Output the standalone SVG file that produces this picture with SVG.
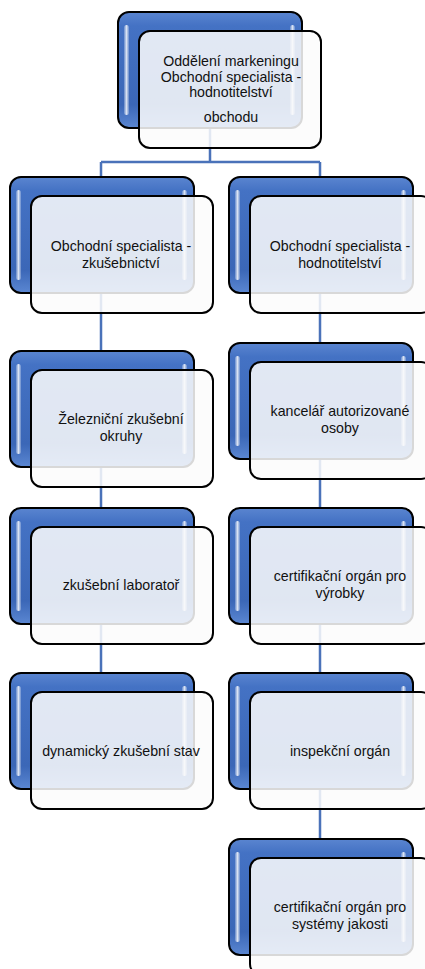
<svg xmlns="http://www.w3.org/2000/svg" width="425" height="969" viewBox="0 0 425 969">
<defs>
<linearGradient id="blueG" x1="0" y1="0" x2="0" y2="1">
<stop offset="0" stop-color="#5a85d0"/>
<stop offset="0.12" stop-color="#4472c4"/>
<stop offset="0.8" stop-color="#3b67b7"/>
<stop offset="1" stop-color="#5b87d2"/>
</linearGradient>
<linearGradient id="hlG" x1="0" y1="0" x2="1" y2="0">
<stop offset="0" stop-color="#ffffff" stop-opacity="0.2"/>
<stop offset="0.5" stop-color="#ffffff" stop-opacity="0.8"/>
<stop offset="1" stop-color="#ffffff" stop-opacity="0.2"/>
</linearGradient>
<g id="node">
<rect class="back" x="0" y="0" width="184" height="116" rx="11"/>
<rect class="hl" x="6" y="13" width="5" height="90" rx="2.5"/>
<rect class="hl" x="172" y="13" width="5" height="90" rx="2.5"/>
<rect class="front" x="21" y="19" width="182" height="117" rx="11"/>
</g>
</defs>
<style>
.back{fill:url(#blueG);stroke:#000;stroke-width:2}
.hl{fill:url(#hlG)}
.front{fill:#fbfbfb;fill-opacity:0.86;stroke:#000;stroke-width:2}
.conn{fill:none;stroke:#4a72b9;stroke-width:2.5}
text{font-family:"Liberation Sans",Arial,sans-serif;font-size:14.2px;fill:#111111;text-anchor:middle}
</style>
<rect width="425" height="969" fill="#ffffff"/>
<g id="connectors">
<path class="conn" d="M210,128 V162 M101,162 H320 M101,162 V177 M320,162 V177"/>
<path class="conn" d="M101,294 V351 M101,467 V508 M101,624 V673"/>
<path class="conn" d="M320,294 V343 M320,459 V508 M320,624 V673 M320,789 V839"/>
</g>
<g id="n-top" transform="translate(118,12)">
<use href="#node"/>
<text x="113" y="54">Oddělení markeningu</text>
<text x="113" y="70">Obchodní specialista -</text>
<text x="113" y="85">hodnotitelství</text>
<text x="113" y="110">obchodu</text>
</g>
<g id="n-zkusebnictvi" transform="translate(10,177)">
<use href="#node"/>
<text x="111" y="74">Obchodní specialista -</text>
<text x="111" y="91">zkušebnictví</text>
</g>
<g id="n-hodnotitelstvi" transform="translate(229,177)">
<use href="#node"/>
<text x="111" y="74">Obchodní specialista -</text>
<text x="111" y="91">hodnotitelství</text>
</g>
<g id="n-okruhy" transform="translate(10,351)">
<use href="#node"/>
<text x="111" y="73">Železniční zkušební</text>
<text x="111" y="90">okruhy</text>
</g>
<g id="n-kancelar" transform="translate(229,343)">
<use href="#node"/>
<text x="111" y="73">kancelář autorizované</text>
<text x="111" y="90">osoby</text>
</g>
<g id="n-laborator" transform="translate(10,508)">
<use href="#node"/>
<text x="111" y="82">zkušební laboratoř</text>
</g>
<g id="n-vyrobky" transform="translate(229,508)">
<use href="#node"/>
<text x="111" y="73">certifikační orgán pro</text>
<text x="111" y="90">výrobky</text>
</g>
<g id="n-stav" transform="translate(10,673)">
<use href="#node"/>
<text x="111" y="83">dynamický zkušební stav</text>
</g>
<g id="n-inspekce" transform="translate(229,673)">
<use href="#node"/>
<text x="111" y="83">inspekční orgán</text>
</g>
<g id="n-jakost" transform="translate(229,839)">
<use href="#node"/>
<text x="111" y="73">certifikační orgán pro</text>
<text x="111" y="90">systémy jakosti</text>
</g>
</svg>
